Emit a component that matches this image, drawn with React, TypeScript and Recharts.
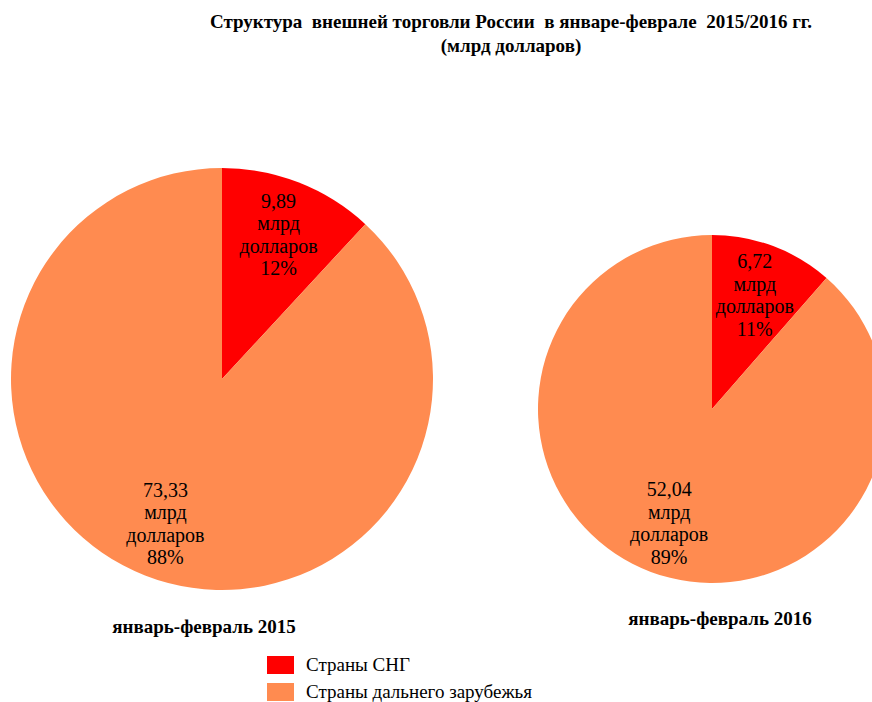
import React from 'react';
import { PieChart, Pie, Cell } from 'recharts';

const categories = ['Страны СНГ', 'Страны дальнего зарубежья'];
const values2015 = [9.89, 73.33];
const values2016 = [6.72, 52.04];
const periods = ['январь-февраль 2015', 'январь-февраль 2016'];
const colors = ['#ff0000', '#ff8b50'];

const FONT = '"Liberation Serif", "Times New Roman", serif';
const RAD = Math.PI / 180;

const toRows = (values: number[]) => categories.map((name, i) => ({ name, value: values[i] }));

const formatValue = (v: number) => v.toFixed(2).replace('.', ',');

const makeLabel = (factor: number) => (props: any) => {
  const { cx, cy, midAngle, outerRadius, value, percent } = props;
  const r = outerRadius * factor;
  const x = cx + r * Math.cos(-midAngle * RAD);
  const y = cy + r * Math.sin(-midAngle * RAD);
  const lh = 22.5;
  const lines = [formatValue(value), 'млрд', 'долларов', `${Math.round(percent * 100)}%`];
  return (
    <text
      x={x}
      y={y - 1.5 * lh}
      textAnchor="middle"
      dominantBaseline="central"
      fill="#000"
      style={{ fontFamily: FONT, fontSize: 20 }}
    >
      {lines.map((l, i) => (
        <tspan key={i} x={x} dy={i === 0 ? 0 : lh}>
          {l}
        </tspan>
      ))}
    </text>
  );
};

const boldText: React.CSSProperties = {
  position: 'absolute',
  fontFamily: FONT,
  fontWeight: 'bold',
  fontSize: 19,
  color: '#000',
  whiteSpace: 'pre',
  transform: 'translateX(-50%)',
  textAlign: 'center',
};

export default function App() {
  return (
    <div style={{ position: 'absolute', left: 0, top: 0, width: 872, height: 702, overflow: 'hidden', background: '#fff' }}>
      <div style={{ ...boldText, left: 511, top: 10, lineHeight: '24px' }}>
        {'Структура  внешней торговли России  в январе-феврале  2015/2016 гг.\n(млрд долларов)'}
      </div>
      <PieChart
        width={872}
        height={702}
        margin={{ top: 0, right: 0, bottom: 0, left: 0 }}
        style={{ position: 'absolute', left: 0, top: 0 }}
      >
        <Pie
          data={toRows(values2015)}
          dataKey="value"
          nameKey="name"
          cx={222}
          cy={379}
          outerRadius={211}
          startAngle={90}
          endAngle={-270}
          stroke="none"
          labelLine={false}
          label={makeLabel(0.735)}
          isAnimationActive={false}
        >
          {categories.map((c, i) => (
            <Cell key={c} fill={colors[i]} />
          ))}
        </Pie>
        <Pie
          data={toRows(values2016)}
          dataKey="value"
          nameKey="name"
          cx={712}
          cy={409}
          outerRadius={174}
          startAngle={90}
          endAngle={-270}
          stroke="none"
          labelLine={false}
          label={makeLabel(0.7)}
          isAnimationActive={false}
        >
          {categories.map((c, i) => (
            <Cell key={c} fill={colors[i]} />
          ))}
        </Pie>
      </PieChart>
      <div style={{ ...boldText, left: 204, top: 616 }}>{periods[0]}</div>
      <div style={{ ...boldText, left: 720, top: 608 }}>{periods[1]}</div>
      {categories.map((c, i) => (
        <div key={c} style={{ position: 'absolute', left: 267, top: 656 + i * 27, display: 'flex', alignItems: 'center' }}>
          <div style={{ width: 27, height: 18, background: colors[i] }} />
          <span style={{ marginLeft: 12, fontFamily: FONT, fontSize: 19, color: '#000', lineHeight: '18px' }}>{c}</span>
        </div>
      ))}
    </div>
  );
}
